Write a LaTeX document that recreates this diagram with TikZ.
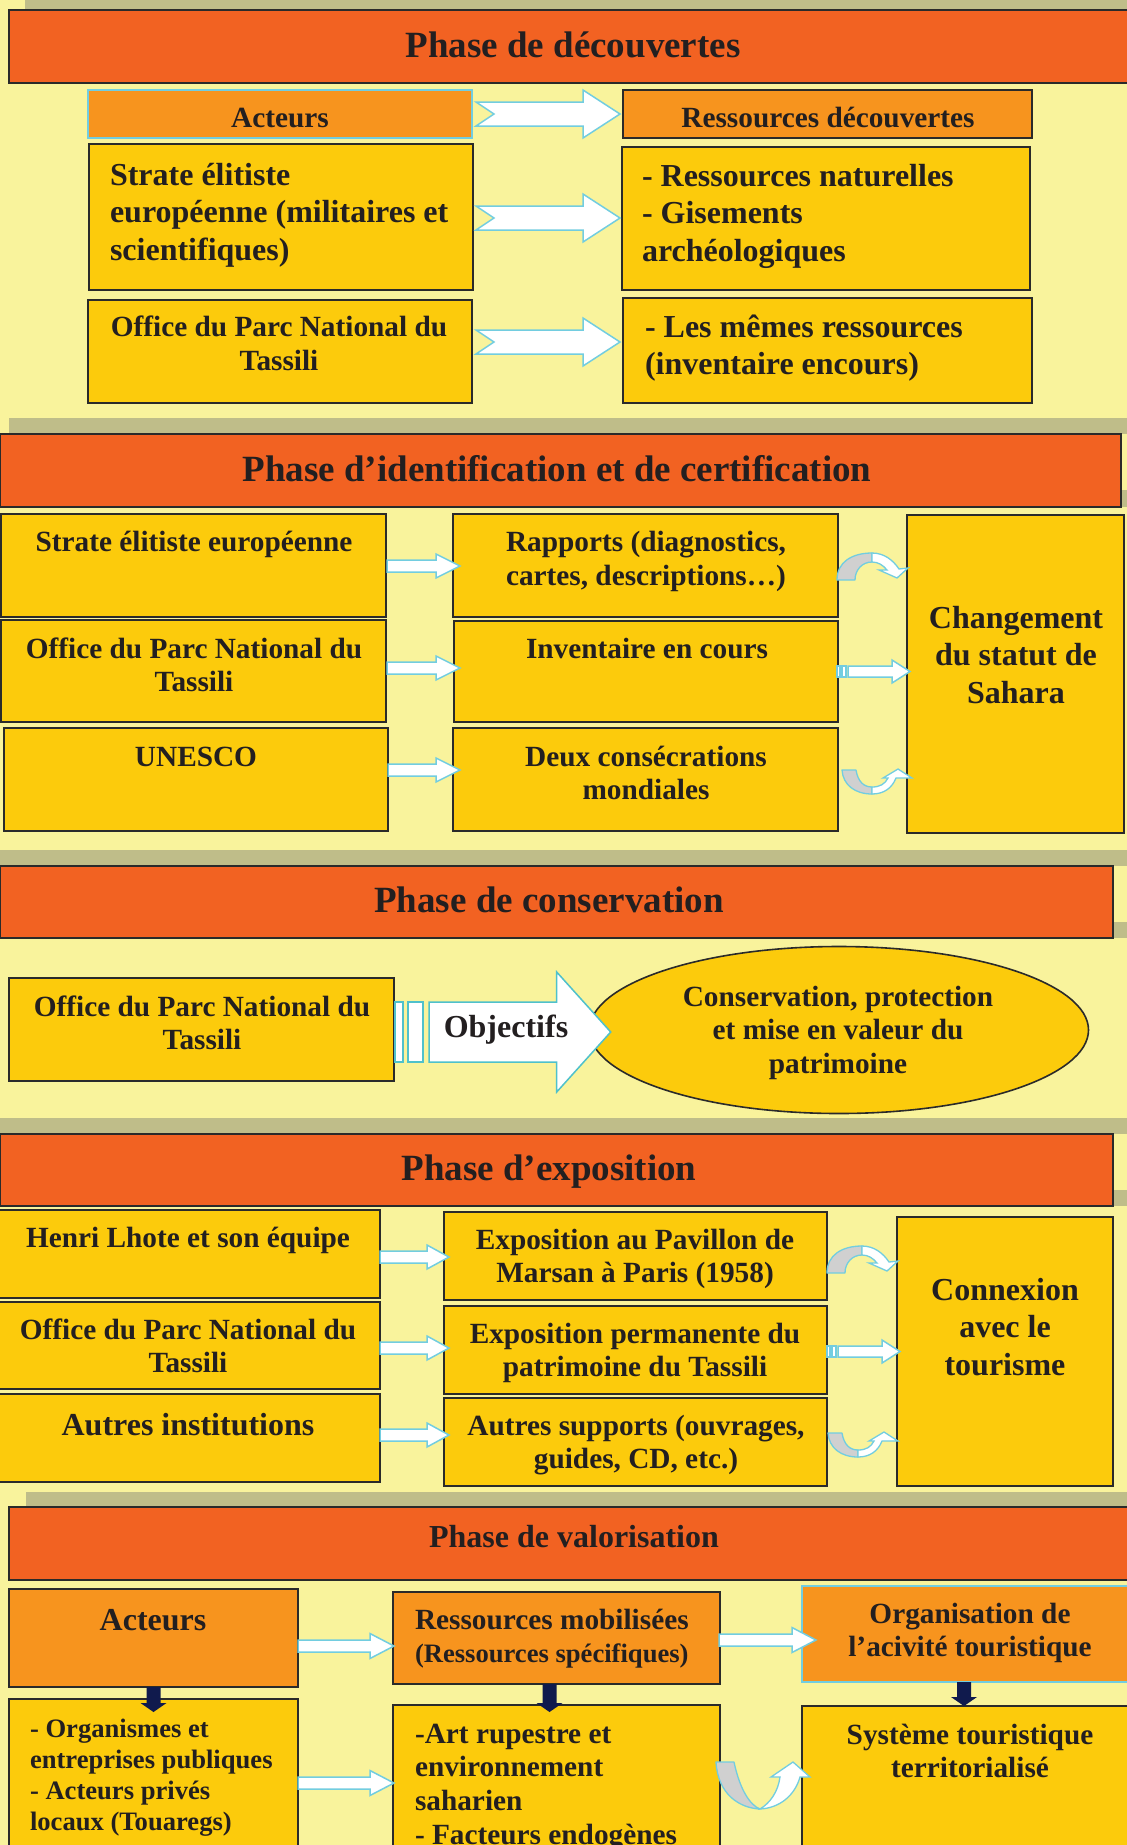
\documentclass[tikz,border=0pt]{standalone}
\usepackage{fontspec}
\setmainfont{Liberation Serif}
\usetikzlibrary{shapes.geometric,calc}
\definecolor{bgc}{HTML}{F9F39C}
\definecolor{band}{HTML}{BFBD89}
\definecolor{hdr}{HTML}{F26222}
\definecolor{org}{HTML}{F7941E}
\definecolor{gold}{HTML}{FCCB0C}
\definecolor{lblue}{HTML}{72CDE0}
\definecolor{tealb}{HTML}{4FC1CB}
\definecolor{cgray}{HTML}{D0D0D0}
\definecolor{navy}{HTML}{101A4D}
\definecolor{ink}{HTML}{231F20}
\definecolor{edge}{HTML}{2A2A2A}
\tikzset{
 box/.style={draw=edge, line width=1.6pt, fill=gold, inner sep=0pt, outer sep=0pt},
 obox/.style={box, fill=org},
 bobox/.style={obox, draw=lblue, line width=2pt},
 hbox/.style={box, fill=hdr, line width=1.8pt},
 blkarr/.style={draw=lblue, fill=white, line width=1.5pt, line join=miter},
 curvg/.style={draw=lblue, fill=cgray, line width=1.3pt, line join=round},
 curvw/.style={draw=lblue, fill=white, line width=1.3pt, line join=miter},
 txt/.style={text=ink, inner sep=0pt, outer sep=0pt},
 fT/.style={font=\fontsize{37}{44}\selectfont\bfseries, yshift=30.8pt},
 fB/.style={font=\fontsize{32}{37.5}\selectfont\bfseries, yshift=26.25pt},
 fA/.style={font=\fontsize{29.3}{33.7}\selectfont\bfseries, yshift=23.6pt},
 fS/.style={font=\fontsize{26.6}{31.3}\selectfont\bfseries, yshift=21.9pt},
 fH/.style={font=\fontsize{32}{38}\selectfont\bfseries, yshift=26.6pt},
 ctr/.style={anchor=north, align=center},
 lft/.style={anchor=north west, align=left},
 curvup/.pic={
  \path[curvg] (0,27) .. controls (0,9) and (15,0) .. (35,0) -- (35,9) .. controls (25,9) and (18,17) .. (18,27) -- cycle;
  \path[curvw] (35,0) .. controls (47,0) and (56,7) .. (62,16) -- (71,15) -- (60,25) -- (42,17) -- (50,17) .. controls (46,12) and (41,9) .. (35,9) -- cycle;},
 curvdn/.pic={
  \path[curvg] (0,1) -- (14,1) .. controls (16,13) and (22,18) .. (30,18) -- (30,25) .. controls (13,25) and (1,16) .. (0,1) -- cycle;
  \path[curvw] (30,25) .. controls (42,25) and (50,19) .. (54,9) -- (70,9) -- (56,0) -- (41,9) -- (46,9) .. controls (43,15) and (38,18) .. (30,18) -- cycle;},
 strarr/.pic={
  \path[blkarr] (0,6) rectangle (3,17);
  \path[blkarr] (5,6) rectangle (9,17);
  \path[blkarr] (11,6) -- (55,6) -- (55,0) -- (73,11.5) -- (55,23) -- (55,17) -- (11,17) -- cycle;},
 bigcurv/.pic={
  \path[curvg] (0,0) -- (18,0) .. controls (24,28) and (34,43) .. (44,47) .. controls (24,46) and (2,33) .. (0,0) -- cycle;
  \path[curvw] (44,47) .. controls (64,46) and (79,33) .. (84,15) -- (94,15) -- (77,0) -- (55,15) -- (64,15) .. controls (62,30) and (54,41) .. (44,47) -- cycle;}
}
% box: name, x1, y1, x2, y2, style
\newcommand\bx[6]{\node[#6, anchor=north west, minimum width={#4-(#2)}, minimum height={#5-(#3)}] (#1) at (#2,#3) {};}
% text: name, x, baseline, style, content
\newcommand\tx[5]{\node[txt,#4] (#1) at (#2,#3) {\strut #5};}
% block arrow: notch, from, to(tip), y, body half, head half, head length
\newcommand\blk[7]{%
 \draw[blkarr] let \p1=(#2), \p2=(#3) in
  (\x1,-#4pt+#5pt) -- (\x2-#7pt,-#4pt+#5pt) -- (\x2-#7pt,-#4pt+#6pt) -- (\x2,-#4pt)
  -- (\x2-#7pt,-#4pt-#6pt) -- (\x2-#7pt,-#4pt-#5pt) -- (\x1,-#4pt-#5pt) -- (\x1+#1pt,-#4pt) -- cycle;}
% navy down arrow: from, to(tip)
\newcommand\dn[2]{%
 \fill[navy] let \p1=(#1), \p2=(#2) in
  (\x1-7pt,\y1) -- (\x1+7pt,\y1) -- (\x1+7pt,\y2+9pt) -- (\x1+13pt,\y2+9pt) -- (\x1,\y2)
  -- (\x1-13pt,\y2+9pt) -- (\x1-7pt,\y2+9pt) -- cycle;}
\begin{document}
\begin{tikzpicture}[x=1pt,y=-1pt]
\useasboundingbox (0,0) rectangle (1127,1845);
\clip (0,0) rectangle (1127,1845);
\fill[bgc] (0,0) rectangle (1127,1845);
% shadow bands
\fill[band] (25,0) rectangle (1127,9.5);
\fill[band] (9,418) rectangle (1127,434);
\fill[band] (1121,490) rectangle (1127,507);
\fill[band] (0,850) rectangle (1127,866);
\fill[band] (1113,922) rectangle (1127,938);
\fill[band] (0,1118) rectangle (1127,1134);
\fill[band] (1113,1190) rectangle (1127,1206);
\fill[band] (26,1492) rectangle (1127,1507);

% ---------- Section 1
\bx{s1h}{9}{10}{1140}{83}{hbox}
\bx{s1a}{88}{90}{472}{138}{bobox}
\bx{s1r}{623}{90}{1032}{138}{obox}
\bx{s1b}{89}{144}{473}{290}{box}
\bx{s1c}{622}{147}{1030}{290}{box}
\bx{s1d}{88}{300}{472}{403}{box}
\bx{s1e}{623}{298}{1032}{403}{box}
\blk{18}{[xshift=4pt]s1a.east}{[xshift=-3pt]s1r.west}{114}{12}{24}{37}
\blk{18}{[xshift=3pt]s1b.east}{[xshift=-2pt]s1c.west}{218}{12}{24}{37}
\blk{18}{[xshift=4pt]s1d.east}{[xshift=-3pt]s1e.west}{342}{12}{24}{37}

% ---------- Section 2
\bx{s2h}{0}{434}{1121}{507}{hbox}
\bx{s2a}{1}{514}{386}{617}{box}
\bx{s2b}{1}{620}{386}{722}{box}
\bx{s2c}{4}{728}{388}{831}{box}
\bx{s2d}{453}{514}{838}{617}{box}
\bx{s2e}{454}{621}{838}{722}{box}
\bx{s2f}{453}{728}{838}{831}{box}
\bx{s2g}{907}{515}{1124}{833}{box}
\blk{0}{[xshift=1pt]s2a.east}{[xshift=7pt]s2d.west}{566}{6}{12}{24}
\blk{0}{[xshift=1pt]s2b.east}{[xshift=6pt]s2e.west}{668}{6}{12}{24}
\blk{0}{s2c.east}{[xshift=7pt]s2f.west}{770}{6}{12}{24}
\pic at ($(s2d.north east)+(-1,39)$) {curvup};
\pic at ($(s2e.north east)+(-1,39)$) {strarr};
\pic at ($(s2f.north east)+(4,41)$) {curvdn};

% ---------- Section 3
\bx{s3h}{0}{866}{1113}{938}{hbox}
\bx{s3a}{9}{978}{394}{1081}{box}
\node[ellipse, draw=edge, fill=gold, line width=1.6pt, minimum width=499, minimum height=167, inner sep=0pt] (ell) at (839,1030) {};
\begin{scope}[blkarr/.append style={draw=tealb}]
\draw[blkarr] let \p1=(s3a.east) in (\x1+1pt,-1002pt) rectangle (\x1+9pt,-1062pt);
\draw[blkarr] let \p1=(s3a.east) in (\x1+14pt,-1002pt) rectangle (\x1+29pt,-1062pt);
\blk{0}{[xshift=35pt]s3a.east}{[xshift=22pt]ell.west}{1032}{30}{60}{54}
\end{scope}

% ---------- Section 4
\bx{s4h}{0}{1134}{1113}{1206}{hbox}
\bx{s4a}{-3}{1210}{380}{1298}{box}
\bx{s4b}{-3}{1302}{380}{1389}{box}
\bx{s4c}{-3}{1394}{380}{1482}{box}
\bx{s4d}{444}{1212}{827}{1300}{box}
\bx{s4e}{444}{1306}{827}{1394}{box}
\bx{s4f}{444}{1398}{827}{1486}{box}
\bx{s4g}{897}{1217}{1113}{1486}{box}
\blk{0}{s4a.east}{[xshift=5pt]s4d.west}{1257}{6}{12}{22}
\blk{0}{s4b.east}{[xshift=5pt]s4e.west}{1348}{6}{12}{22}
\blk{0}{s4c.east}{[xshift=5pt]s4f.west}{1435}{6}{12}{22}
\pic at ($(s4d.north east)+(0,34)$) {curvup};
\pic at ($(s4e.north east)+(0,34)$) {strarr};
\pic at ($(s4f.north east)+(1,34)$) {curvdn};

% ---------- Section 5
\bx{s5h}{9}{1507}{1140}{1580}{hbox}
\bx{s5a}{9}{1589}{298}{1687}{obox}
\bx{s5b}{393}{1592}{720}{1684}{obox}
\bx{s5c}{802}{1586}{1140}{1682}{bobox}
\bx{s5d}{9}{1699}{298}{1860}{box}
\bx{s5e}{393}{1705}{720}{1860}{box}
\bx{s5f}{802}{1706}{1140}{1860}{box}
\blk{0}{s5a.east}{[xshift=1pt]s5b.west}{1646}{6}{12.5}{24}
\blk{0}{[xshift=-1pt]s5b.east}{[xshift=14pt]s5c.west}{1640}{6}{12.5}{24}
\blk{0}{s5d.east}{[xshift=1pt]s5e.west}{1783}{6}{12.5}{24}
\dn{s5a.south}{[yshift=-13pt]s5d.north}
\dn{[xshift=-7pt]s5b.south}{[xshift=-7pt,yshift=-7pt]s5e.north}
\dn{[xshift=-7pt]s5c.south}{[xshift=-7pt]s5f.north}
\pic at ($(s5e.north east)+(-4,57)$) {bigcurv};

% ---------- Texts
\tx{t1}{573}{57}{fT,ctr}{Phase de découvertes}
\tx{t1a}{280}{128}{fA,ctr}{Acteurs}
\tx{t1r}{828}{128}{fA,ctr}{Ressources découvertes}
\tx{t1b}{110}{185}{fB,lft}{Strate élitiste\\européenne (militaires et\\scientifiques)}
\tx{t1c}{642}{186}{fB,lft}{- Ressources naturelles\\- Gisements\\archéologiques}
\tx{t1d}{279}{337}{fA,ctr}{Office du Parc National du\\Tassili}
\tx{t1e}{645}{337}{fB,lft}{- Les mêmes ressources\\(inventaire encours)}

\tx{t2}{557}{481}{fT,ctr}{Phase d’identification et de certification}
\tx{t2a}{194}{552}{fA,ctr}{Strate élitiste européenne}
\tx{t2b}{194}{658}{fA,ctr}{Office du Parc National du\\Tassili}
\tx{t2c}{196}{766}{fA,ctr}{UNESCO}
\tx{t2d}{646}{552}{fA,ctr}{Rapports (diagnostics,\\cartes, descriptions…)}
\tx{t2e}{647}{658}{fA,ctr}{Inventaire en cours}
\tx{t2f}{646}{766}{fA,ctr}{Deux consécrations\\mondiales}
\tx{t2g}{1016}{628}{fB,ctr}{Changement\\du statut de\\Sahara}

\tx{t3}{549}{912}{fT,ctr}{Phase de conservation}
\tx{t3a}{202}{1016}{fA,ctr}{Office du Parc National du\\Tassili}
\tx{t3o}{506}{1037}{fB,ctr}{Objectifs}
\tx{t3e}{838}{1006}{fA,ctr}{Conservation, protection\\et mise en valeur du\\patrimoine}

\tx{t4}{549}{1180}{fT,ctr}{Phase d’exposition}
\tx{t4a}{188}{1247}{fA,ctr}{Henri Lhote et son équipe}
\tx{t4b}{188}{1339}{fA,ctr}{Office du Parc National du\\Tassili}
\tx{t4c}{188}{1435}{fB,ctr}{Autres institutions}
\tx{t4d}{635}{1249}{fA,ctr}{Exposition au Pavillon de\\Marsan à Paris (1958)}
\tx{t4e}{635}{1343}{fA,ctr}{Exposition permanente du\\patrimoine du Tassili}
\tx{t4f}{636}{1435}{fA,ctr}{Autres supports (ouvrages,\\guides, CD, etc.)}
\tx{t4g}{1005}{1300}{fB,ctr}{Connexion\\avec le\\tourisme}

\tx{t5}{574}{1547}{fH,ctr}{Phase de valorisation}
\tx{t5a}{153}{1630}{fB,ctr}{Acteurs}
\tx{t5b}{415}{1629}{fA,lft}{Ressources mobilisées\\{\fontsize{26.6}{31}\selectfont(Ressources spécifiques)}}
\tx{t5c}{970}{1623}{fA,ctr}{Organisation de\\l’acivité touristique}
\tx{t5d}{30}{1737}{fS,lft}{- Organismes et\\entreprises publiques\\- Acteurs privés\\locaux (Touaregs)}
\tx{t5e}{415}{1743}{fA,lft}{-Art rupestre et\\environnement\\saharien\\- Facteurs endogènes}
\tx{t5f}{970}{1744}{fA,ctr}{Système touristique\\territorialisé}
\end{tikzpicture}
\end{document}
